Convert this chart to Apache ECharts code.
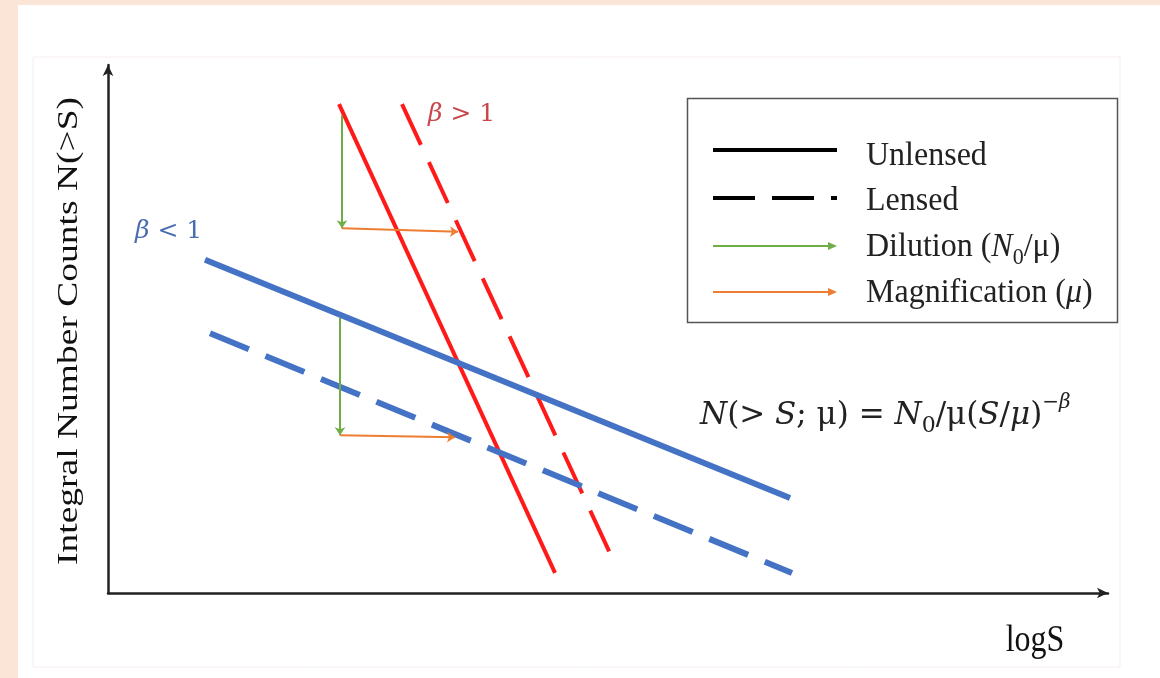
<!DOCTYPE html>
<html>
<head>
<meta charset="utf-8">
<script src="https://cdn.jsdelivr.net/npm/echarts@6/dist/echarts.min.js"></script>
<style>html,body{margin:0;padding:0;background:#fbe5d6;}#c{width:1160px;height:678px;}</style>
</head>
<body>
<div id="c"></div>
<script>
// ---- data (schematic units) ----
const unlensedSteep = [[2.31, 9.26], [4.47, 0.38]];   // red solid, beta > 1
const lensedSteep   = [[2.94, 9.26], [5.05, 0.63]];   // red dashed
const unlensedFlat  = [[0.97, 6.31], [6.82, 1.80]];   // blue solid, beta < 1
const lensedFlat    = [[1.02, 4.92], [6.84, 0.38]];   // blue dashed
const dilutionArrows = [
  [[2.34, 9.05], [2.34, 6.91]],
  [[2.32, 5.21], [2.32, 2.99]]
];
const magnificationArrows = [
  [[2.34, 6.91], [3.50, 6.84]],
  [[2.32, 2.99], [3.47, 2.95]]
];
const legendLabels = ['Unlensed', 'Lensed', 'Dilution', 'Magnification'];
const xAxisName = 'logS';
const yAxisName = 'Integral Number Counts N(>S)';

const RED = '#ff1a1a', BLUE = '#4472c4', GREEN = '#70ad47', ORANGE = '#ed7d31';
const SERIF = '"Liberation Serif", "DejaVu Serif", serif';
const MATH = '"DejaVu Serif", "Liberation Serif", serif';

const chart = echarts.init(document.getElementById('c'), null, {renderer: 'canvas'});

function arrowLines(name, arr, color) {
  return {
    name: name, type: 'lines', coordinateSystem: 'cartesian2d', z: 3,
    symbol: ['none', 'arrow'], symbolSize: 8, silent: true,
    lineStyle: {color: color, width: 2, opacity: 1, curveness: 0},
    data: arr.map(c => ({coords: c}))
  };
}
function straight(name, data, color, width, dash) {
  return {
    name: name, type: 'line', data: data, showSymbol: false, symbol: 'none',
    silent: true, z: 2,
    lineStyle: {color: color, width: width, type: dash || 'solid'}
  };
}

const legX1 = 713, legX2 = 837;
const option = {
  backgroundColor: '#fbe5d6',
  animation: false,
  grid: {left: 108, right: 52, top: 65, bottom: 85},
  xAxis: {
    type: 'value', min: 0, max: 10,
    axisLine: {show: true, symbol: ['none', 'arrow'], symbolSize: [8, 11],
      lineStyle: {color: '#222', width: 2.5}},
    axisTick: {show: false}, axisLabel: {show: false}, splitLine: {show: false}
  },
  yAxis: {
    type: 'value', min: 0, max: 10,
    axisLine: {show: true, symbol: ['none', 'arrow'], symbolSize: [8, 11],
      lineStyle: {color: '#222', width: 2.5}},
    axisTick: {show: false}, axisLabel: {show: false}, splitLine: {show: false}
  },
  series: [
    straight('Unlensed β>1', unlensedSteep, RED, 4),
    straight('Lensed β>1', lensedSteep, RED, 4, [45, 19]),
    straight('Unlensed β<1', unlensedFlat, BLUE, 6),
    straight('Lensed β<1', lensedFlat, BLUE, 6, [42, 18]),
    arrowLines(legendLabels[2], dilutionArrows, GREEN),
    arrowLines(legendLabels[3], magnificationArrows, ORANGE)
  ],
  graphic: [
    {type: 'rect', z: -10, shape: {x: 18, y: 5, width: 1142, height: 673}, style: {fill: '#ffffff'}},
    {type: 'rect', z: -9, shape: {x: 33, y: 57, width: 1087, height: 610}, style: {fill: 'none', stroke: '#f4eeec', lineWidth: 1}},
    // axis titles
    {type: 'text', x: 69, y: 331, rotation: Math.PI / 2, scaleX: 1.25, scaleY: 1,
      style: {text: yAxisName, font: '30px ' + SERIF, fill: '#111', align: 'center', verticalAlign: 'middle'}},
    {type: 'text', x: 1035, y: 641, scaleY: 1.2,
      style: {text: xAxisName, font: '32px ' + SERIF, fill: '#111', align: 'center', verticalAlign: 'middle'}},
    // beta labels
    {type: 'text', x: 428, y: 114,
      style: {text: '{i|β} > 1', fill: '#c9474a', align: 'left', verticalAlign: 'middle',
        font: '25px ' + MATH,
        rich: {i: {fontStyle: 'italic', fontFamily: MATH, fontSize: 25, fill: '#c9474a'}}}},
    {type: 'text', x: 135, y: 231,
      style: {text: '{i|β} < 1', fill: '#4a6db0', align: 'left', verticalAlign: 'middle',
        font: '25px ' + MATH,
        rich: {i: {fontStyle: 'italic', fontFamily: MATH, fontSize: 25, fill: '#4a6db0'}}}},
    // formula
    {type: 'text', x: 700, y: 416,
      style: {
        text: '{i|N}{n|(> }{i|S}{n|; μ) = }{i|N}{sub|0}{n|/μ(}{i|S}{n|/}{i|μ}{n|)}{sup|−β}',
        align: 'left', verticalAlign: 'middle', fill: '#222',
        rich: {
          n: {fontFamily: MATH, fontSize: 31, fill: '#222', lineHeight: 46, verticalAlign: 'middle'},
          i: {fontFamily: MATH, fontStyle: 'italic', fontSize: 31, fill: '#222', lineHeight: 46, verticalAlign: 'middle'},
          sub: {fontFamily: MATH, fontSize: 22, fill: '#222', lineHeight: 46, verticalAlign: 'bottom', padding: [0, 0, 2, 0]},
          sup: {fontFamily: MATH, fontStyle: 'italic', fontSize: 20, fill: '#222', lineHeight: 46, verticalAlign: 'top'}
        }
      }},
    // legend box
    {type: 'rect', shape: {x: 687.5, y: 98.5, width: 430, height: 224}, style: {fill: '#fff', stroke: '#555', lineWidth: 1.5}, z: 5},
    {type: 'line', z: 6, shape: {x1: legX1, y1: 150, x2: legX2, y2: 150}, style: {stroke: '#000', lineWidth: 4}},
    {type: 'line', z: 6, shape: {x1: legX1, y1: 198, x2: legX2, y2: 198}, style: {stroke: '#000', lineWidth: 4, lineDash: [42, 17]}},
    {type: 'line', z: 6, shape: {x1: legX1, y1: 246, x2: legX2 - 6, y2: 246}, style: {stroke: GREEN, lineWidth: 2}},
    {type: 'polygon', z: 6, shape: {points: [[legX2, 246], [legX2 - 9, 242], [legX2 - 9, 250]]}, style: {fill: GREEN}},
    {type: 'line', z: 6, shape: {x1: legX1, y1: 292, x2: legX2 - 6, y2: 292}, style: {stroke: ORANGE, lineWidth: 2}},
    {type: 'polygon', z: 6, shape: {points: [[legX2, 292], [legX2 - 9, 288], [legX2 - 9, 296]]}, style: {fill: ORANGE}},
    {type: 'text', z: 6, x: 866, y: 156, scaleY: 1.08, style: {text: legendLabels[0], font: '32px ' + SERIF, fill: '#222', verticalAlign: 'middle'}},
    {type: 'text', z: 6, x: 866, y: 201, scaleY: 1.08, style: {text: legendLabels[1], font: '32px ' + SERIF, fill: '#222', verticalAlign: 'middle'}},
    {type: 'text', z: 6, x: 866, y: 247, scaleY: 1.08,
      style: {text: '{n|' + legendLabels[2] + ' (}{i|N}{sub|0}{n|/μ)}', verticalAlign: 'middle', fill: '#222',
        rich: {
          n: {fontFamily: SERIF, fontSize: 32, fill: '#222', lineHeight: 42, verticalAlign: 'middle'},
          i: {fontFamily: SERIF, fontStyle: 'italic', fontSize: 32, fill: '#222', lineHeight: 42, verticalAlign: 'middle'},
          sub: {fontFamily: SERIF, fontSize: 22, fill: '#222', lineHeight: 42, verticalAlign: 'bottom'}
        }}},
    {type: 'text', z: 6, x: 866, y: 293, scaleY: 1.08,
      style: {text: '{n|' + legendLabels[3] + ' (}{i|μ}{n|)}', verticalAlign: 'middle', fill: '#222',
        rich: {
          n: {fontFamily: SERIF, fontSize: 32, fill: '#222'},
          i: {fontFamily: SERIF, fontStyle: 'italic', fontSize: 32, fill: '#222'}
        }}}
  ]
};
chart.setOption(option);
</script>
</body>
</html>
